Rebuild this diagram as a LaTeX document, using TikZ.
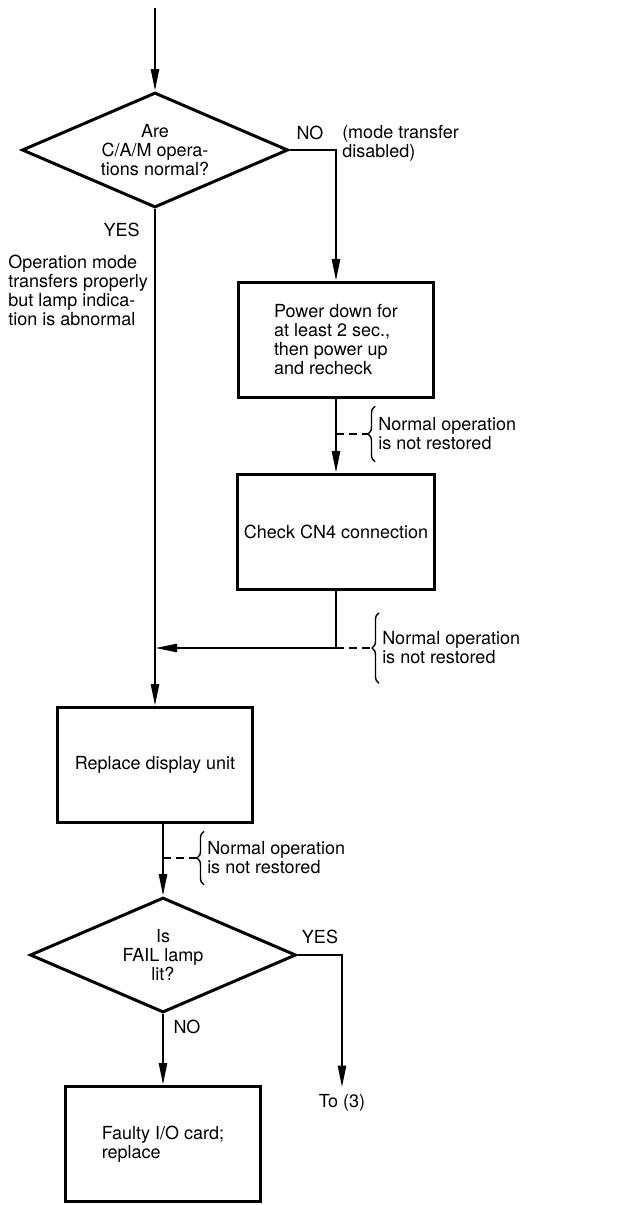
\documentclass[tikz,border=0pt]{standalone}
\usepackage{fontspec}
\setmainfont{TeX Gyre Heros}
\usetikzlibrary{arrows.meta,shapes.geometric,decorations.pathreplacing}

\tikzset{
  procbox/.style={draw, line width=1.5pt, minimum width=97.5pt, minimum height=57.5pt, align=center},
  decision/.style={draw, diamond, line width=1.5pt, minimum width=133pt, minimum height=57.5pt, inner sep=0pt, shape aspect=2.3, align=center},
  lbl/.style={inner sep=0pt, align=left},
  note/.style={inner sep=0pt, align=left, anchor=west},
  brc/.style={decorate, decoration={brace, amplitude=3.5pt}, line width=0.7pt},
  dsh/.style={line width=1pt, dash pattern=on 4pt off 2.5pt}
}

\begin{document}
\begin{tikzpicture}[line width=1.25pt, >={Stealth[length=11pt,width=4pt,inset=0pt]}, x=0.5pt, y=-0.5pt, font=\fontsize{9}{9.5}\selectfont]
  \useasboundingbox (0,0) rectangle (616,1205);
  \coordinate (start) at (155,8);
  \node[decision] (cam) at (155,150) {Are\\C/A/M opera-\\tions normal?};
  \node[procbox, align=left] (powerdn) at (336,340) {Power down for\\at least 2 sec.,\\then power up\\and recheck};
  \node[procbox] (cncheck) at (336,532) {Check CN4 connection};
  \coordinate (mrg) at (336,648);
  \node[procbox] (replunit) at (155,765) {Replace display unit};
  \node[decision] (faillamp) at (163,955) {Is\\FAIL lamp\\lit?};
  \node[procbox, align=left] (iocard) at (163,1144) {Faulty I/O card;\\replace};

  \node[lbl, anchor=east] (yes1) at (141,230) {YES};
  \node[lbl, anchor=west] (opnote) at (7,290) {Operation mode\\transfers properly\\but lamp indica-\\tion is abnormal};
  \node[lbl] (no1) at (310,133) {NO};
  \node[lbl, anchor=west] (disabl) at (341,143) {(mode transfer\\disabled)};
  \node[lbl] (yes2) at (320,937) {YES};
  \node[lbl] (no2) at (187,1027) {NO};
  \node[lbl, outer sep=3.5pt] (to3) at (342,1103) {To (3)};

  \draw[->] (start) -- (cam.north);
  \draw[->] (cam.east) -| (powerdn.north);
  \draw[->] (cam.south) -- (replunit.north);
  \draw[->] (powerdn.south) -- (cncheck.north);
  \draw[->] (cncheck.south) -- (mrg) -- (mrg -| cam.south);
  \draw[->] (replunit.south -| faillamp.north) -- (faillamp.north);
  \draw[->] (faillamp.south) -- (iocard.north);
  \draw[->] (faillamp.east) -| (to3.north);

  \node[note, minimum height=26.5pt] (nr1) at (377,434) {Normal operation\\is not restored};
  \draw[brc] ([xshift=-1pt]nr1.south west) -- ([xshift=-1pt]nr1.north west);
  \draw[dsh] (powerdn.south |- nr1.west) -- ([xshift=-4.5pt]nr1.west);

  \node[note, minimum height=34pt] (nr2) at (381,648) {Normal operation\\is not restored};
  \draw[brc] ([xshift=-1pt]nr2.south west) -- ([xshift=-1pt]nr2.north west);
  \draw[dsh] (mrg) -- ([xshift=-4.5pt]nr2.west);

  \node[note, minimum height=25.5pt] (nr3) at (206,858) {Normal operation\\is not restored};
  \draw[brc] ([xshift=-1pt]nr3.south west) -- ([xshift=-1pt]nr3.north west);
  \draw[dsh] (faillamp.north |- nr3.west) -- ([xshift=-4.5pt]nr3.west);
\end{tikzpicture}
\end{document}
